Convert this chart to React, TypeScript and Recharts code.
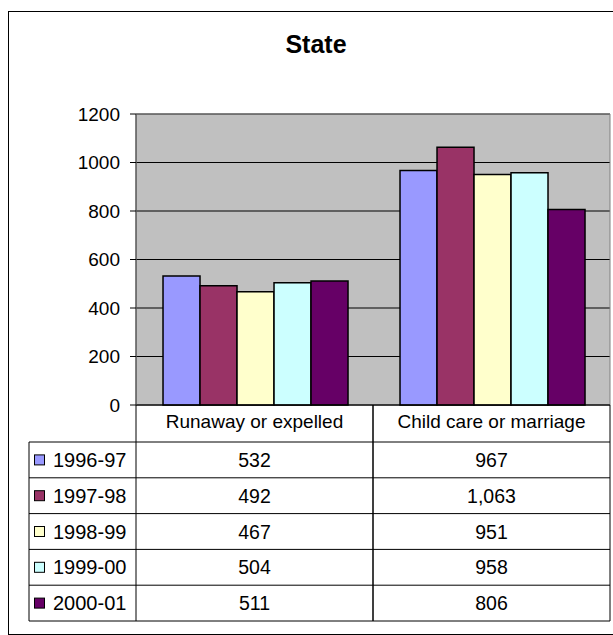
import { BarChart, Bar, XAxis, YAxis, CartesianGrid, ReferenceArea } from "recharts";

const categories = ["Runaway or expelled", "Child care or marriage"];
const seasons = ["1996-97", "1997-98", "1998-99", "1999-00", "2000-01"];
const v1996 = [532, 967];
const v1997 = [492, 1063];
const v1998 = [467, 951];
const v1999 = [504, 958];
const v2000 = [511, 806];
const yTicks = [0, 200, 400, 600, 800, 1000, 1200];

const colors = ["#9999FF", "#993366", "#FFFFCC", "#CCFFFF", "#660066"];
const FONT = "Arial, 'Liberation Sans', sans-serif";

const seriesValues = [v1996, v1997, v1998, v1999, v2000];

// layout (chart-local px, chart placed at page 8,8)
const W = 605;
const H = 620;
const PLOT_LEFT = 128;
const PLOT_RIGHT = 602;
const BAND = (PLOT_RIGHT - PLOT_LEFT) / categories.length;
const HEAD_H = 37;
const ROW_H = 35.8;
const TABLE_H = HEAD_H + ROW_H * seasons.length;
const LEGEND_LEFT = 21;

function TableTick(props: any) {
  const { x, y, payload, index } = props;
  const left = x - BAND / 2;
  const right = x + BAND / 2;
  const ci = categories.indexOf(payload.value);
  const els: any[] = [];

  els.push(<line key="l" x1={left} x2={left} y1={y} y2={y + TABLE_H} stroke="#000" />);
  els.push(<line key="r" x1={right} x2={right} y1={y} y2={y + TABLE_H} stroke="#000" />);
  els.push(
    <text key="h" x={x} y={y + 23} textAnchor="middle" fontSize={19} fill="#000" fontFamily={FONT}>
      {payload.value}
    </text>
  );
  for (let r = 0; r <= seasons.length; r++) {
    const ly = y + HEAD_H + r * ROW_H;
    els.push(<line key={"hl" + r} x1={left} x2={right} y1={ly} y2={ly} stroke="#000" />);
  }
  seriesValues.forEach((vals, r) => {
    const cy = y + HEAD_H + r * ROW_H + ROW_H / 2 + 7;
    els.push(
      <text key={"v" + r} x={x} y={cy} textAnchor="middle" fontSize={19.5} fill="#000" fontFamily={FONT}>
        {vals[ci].toLocaleString("en-US")}
      </text>
    );
  });

  // legend column, drawn once left of the first band
  if (index === 0) {
    els.push(
      <line key="ll" x1={LEGEND_LEFT} x2={LEGEND_LEFT} y1={y + HEAD_H} y2={y + TABLE_H} stroke="#000" />
    );
    seasons.forEach((s, r) => {
      const top = y + HEAD_H + r * ROW_H;
      const cy = top + ROW_H / 2;
      els.push(<line key={"lh" + r} x1={LEGEND_LEFT} x2={left} y1={top} y2={top} stroke="#000" />);
      els.push(
        <rect key={"lm" + r} x={LEGEND_LEFT + 5.5} y={cy - 5} width={10} height={10} fill={colors[r]} stroke="#000" />
      );
      els.push(
        <text key={"lt" + r} x={LEGEND_LEFT + 24} y={cy + 7} fontSize={20} fill="#000" fontFamily={FONT}>
          {s}
        </text>
      );
    });
    const b = y + TABLE_H;
    els.push(<line key="lb" x1={LEGEND_LEFT} x2={left} y1={b} y2={b} stroke="#000" />);
  }
  return <g>{els}</g>;
}

export default function App() {
  const data = categories.map((name, i) => ({
    name,
    s0: v1996[i],
    s1: v1997[i],
    s2: v1998[i],
    s3: v1999[i],
    s4: v2000[i],
  }));

  return (
    <div
      style={{
        position: "fixed",
        left: 0,
        top: 0,
        width: 613,
        height: 635,
        overflow: "hidden",
        background: "#fff",
        fontFamily: FONT,
      }}
    >
      <div
        style={{
          position: "absolute",
          left: 8,
          top: 11,
          width: 640,
          height: 624,
          border: "1px solid #000",
          boxSizing: "border-box",
        }}
      />
      <div
        style={{
          position: "absolute",
          left: 8,
          top: 32,
          width: 616,
          textAlign: "center",
          fontWeight: "bold",
          fontSize: 25,
          lineHeight: "25px",
        }}
      >
        State
      </div>
      <div style={{ position: "absolute", left: 8, top: 8 }}>
        <BarChart
          width={W}
          height={H}
          data={data}
          margin={{ top: 106, right: W - PLOT_RIGHT, bottom: H - 106 - 291 - TABLE_H, left: 0 }}
          barCategoryGap="11.4%"
          barGap={0}
        >
          <CartesianGrid vertical={false} stroke="#000" fill="#C0C0C0" fillOpacity={1} />
          <ReferenceArea y1={0} y2={1200} fill="none" stroke="#808080" ifOverflow="visible" />
          <XAxis
            dataKey="name"
            height={TABLE_H}
            axisLine={{ stroke: "#000" }}
            tickLine={false}
            tickSize={0}
            tickMargin={0}
            interval={0}
            tick={<TableTick />}
          />
          <YAxis
            width={PLOT_LEFT}
            domain={[0, 1200]}
            ticks={yTicks}
            axisLine={{ stroke: "#404040" }}
            tickLine={{ stroke: "#000" }}
            tickSize={6}
            tickMargin={10}
            tick={{ fontSize: 19, fill: "#000", fontFamily: FONT }}
          />
          {seasons.map((s, i) => (
            <Bar
              key={s}
              dataKey={"s" + i}
              name={s}
              fill={colors[i]}
              stroke="#000"
              strokeWidth={1.5}
              isAnimationActive={false}
            />
          ))}
        </BarChart>
      </div>
    </div>
  );
}
